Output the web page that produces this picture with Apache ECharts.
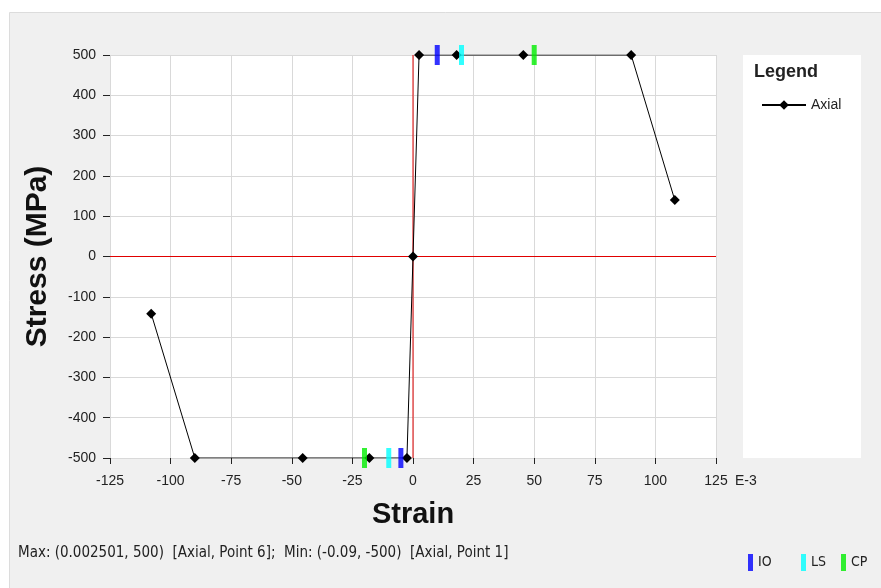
<!DOCTYPE html>
<html>
<head>
<meta charset="utf-8">
<script src="https://cdn.jsdelivr.net/npm/echarts@6/dist/echarts.min.js"></script>
<style>
  html, body { margin: 0; padding: 0; background: #fff; }
  #chart { width: 881px; height: 588px; }
</style>
</head>
<body>
<div id="chart"></div>
<script>
// strain in E-3, stress in MPa
const strain = [-108, -90, -45.5, -18, -2.5, 0, 2.5, 18, 45.5, 90, 108];
const stress = [-142, -500, -500, -500, -500, 0, 500, 500, 500, 500, 140];

// performance level markers (strain E-3, stress)
const ioPts = [[10, 500], [-5, -500]];
const lsPts = [[20, 500], [-10, -500]];
const cpPts = [[50, 500], [-20, -500]];

// red zero lines
const zeroV = [[0, -500], [0, 500]];
const zeroH = [[-125, 0], [125, 0]];

const axialData = strain.map((x, i) => [x, stress[i]]);
const tickFont = { fontFamily: 'Liberation Sans, Arial, sans-serif', fontSize: 14, color: '#222' };
const narrow = 'Liberation Sans Narrow, DejaVu Sans Condensed, Arial, sans-serif';

const chart = echarts.init(document.getElementById('chart'));

function levelSeries(name, data, color) {
  return {
    name: name,
    type: 'scatter',
    data: data,
    symbol: 'rect',
    symbolSize: [5, 20],
    itemStyle: { color: color },
    z: 5,
    silent: true
  };
}

function zeroSeries(name, data) {
  return {
    name: name,
    type: 'line',
    data: data,
    symbol: 'none',
    silent: true,
    lineStyle: { color: '#e00000', width: 1 },
    z: 2
  };
}

function levelLegend(name, left) {
  return {
    data: [name],
    left: left,
    top: 549,
    icon: 'rect',
    itemWidth: 5,
    itemHeight: 17,
    itemGap: 0,
    selectedMode: false,
    textStyle: { fontFamily: narrow, fontSize: 14, color: '#222', padding: [2, 0, 0, 0] }
  };
}

chart.setOption({
  backgroundColor: '#fff',
  animation: false,
  graphic: [
    {
      type: 'rect', z: -10, silent: true,
      shape: { x: 9.5, y: 12.5, width: 880, height: 580 },
      style: { fill: '#f0f0f0', stroke: '#dcdcdc', lineWidth: 1 }
    },
    {
      type: 'rect', z: -9, silent: true,
      shape: { x: 743, y: 55, width: 118, height: 403 },
      style: { fill: '#fff' }
    },
    {
      type: 'text', left: 754, top: 63,
      style: { text: 'Legend', font: 'bold 18px Liberation Sans, Arial, sans-serif', fill: '#222' }
    },
    {
      type: 'text', left: 735, top: 474,
      style: { text: 'E-3', font: '14px Liberation Sans, Arial, sans-serif', fill: '#222' }
    },
    {
      type: 'text', left: 18, top: 546,
      style: {
        text: 'Max: (0.002501, 500)  [Axial, Point 6];  Min: (-0.09, -500)  [Axial, Point 1]',
        font: '15px ' + narrow, fill: '#222'
      }
    }
  ],
  grid: {
    left: 110, right: 165, top: 55, bottom: 130,
    show: true, backgroundColor: '#fff', borderWidth: 0
  },
  legend: [
    {
      data: ['Axial'],
      left: 756, top: 93,
      itemWidth: 44, itemHeight: 12,
      selectedMode: false,
      textStyle: { fontFamily: 'Liberation Sans, Arial, sans-serif', fontSize: 14, color: '#222' }
    },
    levelLegend('IO', 743),
    levelLegend('LS', 796),
    levelLegend('CP', 836)
  ],
  xAxis: {
    type: 'value',
    min: -125, max: 125, interval: 25,
    name: 'Strain',
    nameLocation: 'middle',
    nameGap: 42,
    nameTextStyle: { fontFamily: 'Liberation Sans, Arial, sans-serif', fontSize: 29, fontWeight: 'bold', color: '#111' },
    axisLine: { show: false, onZero: false },
    axisTick: { show: true, length: 6, lineStyle: { color: '#222' } },
    axisLabel: Object.assign({ margin: 16 }, tickFont),
    splitLine: { show: true, lineStyle: { color: '#d9d9d9' } }
  },
  yAxis: {
    type: 'value',
    min: -500, max: 500, interval: 100,
    name: 'Stress (MPa)',
    nameLocation: 'middle',
    nameGap: 57,
    nameTextStyle: { fontFamily: 'Liberation Sans, Arial, sans-serif', fontSize: 30, fontWeight: 'bold', color: '#111' },
    axisLine: { show: false, onZero: false },
    axisTick: { show: true, length: 7, inside: false, lineStyle: { color: '#222' } },
    axisLabel: Object.assign({ margin: 14 }, tickFont),
    splitLine: { show: true, lineStyle: { color: '#d9d9d9' } }
  },
  series: [
    zeroSeries('zeroV', zeroV),
    zeroSeries('zeroH', zeroH),
    {
      name: 'Axial',
      type: 'line',
      data: axialData,
      symbol: 'diamond',
      symbolSize: 10,
      showAllSymbol: true,
      lineStyle: { color: '#000', width: 1 },
      itemStyle: { color: '#000' },
      z: 3
    },
    levelSeries('IO', ioPts, '#0000ff'),
    levelSeries('LS', lsPts, '#00ffff'),
    levelSeries('CP', cpPts, '#00ee00')
  ]
});
</script>
</body>
</html>
